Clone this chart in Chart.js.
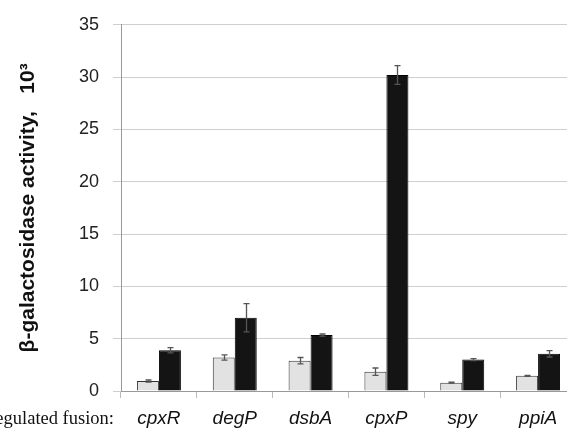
<!DOCTYPE html>
<html>
<head>
<meta charset="utf-8">
<script src="https://cdn.jsdelivr.net/npm/chart.js@4"></script>
<style>
  html, body { margin: 0; padding: 0; background: #fff; overflow: hidden; }
  #wrap { width: 576px; height: 433px; }
</style>
</head>
<body>
<div id="wrap"><canvas id="chart" width="576" height="433"></canvas></div>
<script>
// fusions on the x axis
let categories = ['cpxR', 'degP', 'dsbA', 'cpxP', 'spy', 'ppiA'];

// light bars (uninduced) and dark bars (induced), in units of 10^3
let lightValues = [0.95, 3.2, 2.9, 1.85, 0.8, 1.45];
let lightErrors = [0.1, 0.25, 0.3, 0.35, 0.05, 0.05];
let darkValues = [3.9, 7.0, 5.35, 30.2, 3.0, 3.55];
let darkErrors = [0.25, 1.35, 0.1, 0.9, 0.1, 0.3];

let yMax = 35;
let yStep = 5;

let errorLists = [lightErrors, darkErrors];

// draws the error whiskers on top of the bars
let errorBars = {
    id: 'errorBars',
    afterDatasetsDraw(chart) {
        let ctx = chart.ctx;
        let yScale = chart.scales.y;
        ctx.save();
        ctx.strokeStyle = '#555';
        ctx.lineWidth = 1.3;
        chart.data.datasets.forEach((ds, i) => {
            let meta = chart.getDatasetMeta(i);
            meta.data.forEach((bar, j) => {
                let v = ds.data[j];
                let e = errorLists[i][j];
                let top = yScale.getPixelForValue(v + e);
                let bottom = yScale.getPixelForValue(v - e);
                let x = Math.round(bar.x) + 0.5;
                ctx.beginPath();
                ctx.moveTo(x, top);
                ctx.lineTo(x, bottom);
                ctx.moveTo(x - 3, top);
                ctx.lineTo(x + 3, top);
                ctx.moveTo(x - 3, bottom);
                ctx.lineTo(x + 3, bottom);
                ctx.stroke();
            });
        });
        ctx.restore();
    }
};

// the cut-off caption left of the category labels
let sideCaption = {
    id: 'sideCaption',
    afterDraw(chart) {
        let ctx = chart.ctx;
        ctx.save();
        ctx.font = '18.5px "Liberation Serif", serif';
        ctx.fillStyle = '#111';
        ctx.textAlign = 'right';
        ctx.textBaseline = 'middle';
        ctx.fillText('Cpx-regulated fusion:', 114, 419);
        ctx.restore();
    }
};

new Chart(document.getElementById('chart'), {
    type: 'bar',
    data: {
        labels: categories,
        datasets: [
            {
                label: 'uninduced',
                data: lightValues,
                backgroundColor: '#e2e2e2',
                borderColor: '#333',
                borderWidth: 1,
                barPercentage: 1.0,
                categoryPercentage: 0.58
            },
            {
                label: 'induced',
                data: darkValues,
                backgroundColor: '#141414',
                borderColor: '#000',
                borderWidth: 1,
                barPercentage: 1.0,
                categoryPercentage: 0.58
            }
        ]
    },
    options: {
        responsive: false,
        animation: false,
        layout: { padding: { top: 22, right: 0, left: 0, bottom: 0 } },
        plugins: {
            legend: { display: false },
            tooltip: { enabled: false }
        },
        scales: {
            x: {
                offset: true,
                grid: {
                    offset: true,
                    drawOnChartArea: false,
                    drawTicks: true,
                    tickLength: 7,
                    color: '#bbb'
                },
                border: { color: '#999' },
                ticks: {
                    color: '#111',
                    padding: 9,
                    font: { family: '"Liberation Sans", Arial, sans-serif', size: 19, style: 'italic' }
                },
                afterFit(scale) { scale.height = 42; }
            },
            y: {
                min: 0,
                max: yMax,
                grid: { color: '#cfcfcf', tickLength: 8 },
                border: { color: '#999' },
                ticks: {
                    stepSize: yStep,
                    color: '#222',
                    padding: 14,
                    font: { family: '"Liberation Sans", Arial, sans-serif', size: 18 }
                },
                title: {
                    display: true,
                    text: 'β-galactosidase activity,   10³',
                    color: '#111',
                    padding: { top: 16, bottom: 0 },
                    font: { family: '"Liberation Sans", Arial, sans-serif', size: 21, weight: 'bold' }
                },
                afterFit(scale) { scale.width = 121; }
            }
        }
    },
    plugins: [errorBars, sideCaption]
});
</script>
</body>
</html>
